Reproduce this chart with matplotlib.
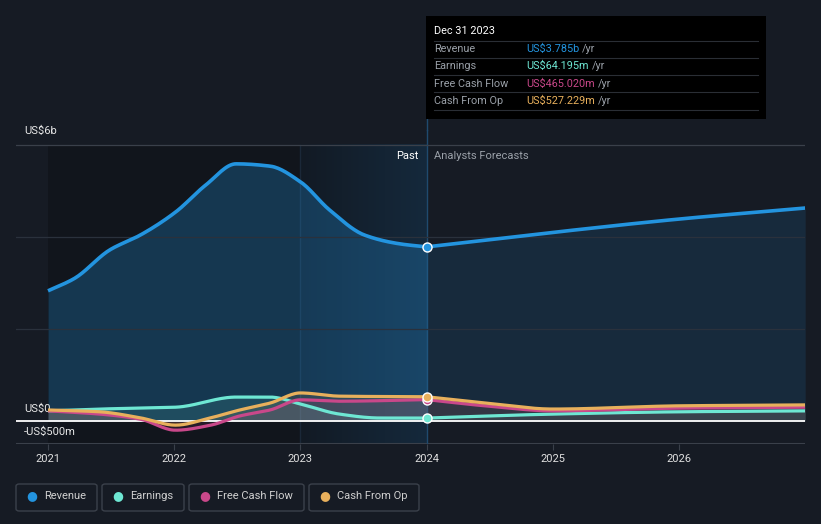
import matplotlib
matplotlib.use("Agg")
import matplotlib.pyplot as plt
import numpy as np
from matplotlib.patches import FancyBboxPatch, Rectangle
from matplotlib.colors import LinearSegmentedColormap

plt.rcParams['font.family'] = ['Roboto', 'DejaVu Sans']

# ---- data (US$ billions) ----
rev_t = [2021.0, 2021.21, 2021.49, 2021.73, 2022.01, 2022.25, 2022.49, 2022.76, 2023.0, 2023.23, 2023.51, 2023.79, 2024.0]
rev_v = [2.83, 3.10, 3.72, 4.04, 4.54, 5.13, 5.59, 5.54, 5.20, 4.59, 4.04, 3.85, 3.785]
rev_ft = [2024.0, 2025.0, 2026.0, 2027.0]
rev_fv = [3.785, 4.10, 4.39, 4.63]

earn_t = [2021.0, 2021.41, 2021.73, 2022.01, 2022.49, 2022.76, 2023.0, 2023.31, 2023.63, 2024.0]
earn_v = [0.22, 0.26, 0.28, 0.30, 0.52, 0.52, 0.37, 0.15, 0.065, 0.064]
earn_ft = [2024.0, 2025.0, 2026.0, 2027.0]
earn_fv = [0.064, 0.15, 0.20, 0.22]

fcf_t = [2021.0, 2021.41, 2021.73, 2022.01, 2022.29, 2022.52, 2022.76, 2023.0, 2023.31, 2024.0]
fcf_v = [0.22, 0.15, 0.04, -0.20, -0.09, 0.11, 0.24, 0.46, 0.43, 0.465]
fcf_ft = [2024.0, 2024.5, 2025.0, 2026.0, 2027.0]
fcf_fv = [0.465, 0.32, 0.22, 0.28, 0.30]

cfo_t = [2021.0, 2021.41, 2021.73, 2022.01, 2022.29, 2022.52, 2022.76, 2023.0, 2023.31, 2024.0]
cfo_v = [0.24, 0.20, 0.07, -0.09, 0.07, 0.24, 0.39, 0.61, 0.54, 0.527]
cfo_ft = [2024.0, 2024.5, 2025.0, 2026.0, 2027.0]
cfo_fv = [0.527, 0.38, 0.26, 0.33, 0.35]

year_ticks = [2021, 2022, 2023, 2024, 2025, 2026]

C_REV = '#2394df'
C_EARN = '#6ee7d3'
C_FCF = '#c9488a'
C_CFO = '#e8b05c'
BG = '#161b24'


def smooth(t, v, n=200):
    t = np.asarray(t, float); v = np.asarray(v, float)
    h = np.diff(t); d = np.diff(v) / h
    m = np.zeros_like(v)
    m[0] = d[0]; m[-1] = d[-1]
    for i in range(1, len(v) - 1):
        if d[i - 1] * d[i] <= 0:
            m[i] = 0
        else:
            w1 = 2 * h[i] + h[i - 1]; w2 = h[i] + 2 * h[i - 1]
            m[i] = (w1 + w2) / (w1 / d[i - 1] + w2 / d[i])
    xs = np.linspace(t[0], t[-1], n)
    ys = np.empty_like(xs)
    for k, x in enumerate(xs):
        i = min(np.searchsorted(t, x, side='right') - 1, len(t) - 2)
        hh = h[i]; s = (x - t[i]) / hh
        h00 = 2 * s**3 - 3 * s**2 + 1; h10 = s**3 - 2 * s**2 + s
        h01 = -2 * s**3 + 3 * s**2; h11 = s**3 - s**2
        ys[k] = h00 * v[i] + h10 * hh * m[i] + h01 * v[i + 1] + h11 * hh * m[i + 1]
    return xs, ys


W, H = 821, 524
fig = plt.figure(figsize=(W / 100, H / 100), dpi=100)
fig.patch.set_facecolor(BG)

x0px, x1px = 16, 805
ytop, ybot = 130, 444
ax = fig.add_axes([x0px / W, 1 - ybot / H, (x1px - x0px) / W, (ybot - ytop) / H])
ax.set_facecolor(BG)
px_per_year = 126.2
xmin = 2021 - (48 - x0px) / px_per_year
xmax = 2021 + (x1px - 48) / px_per_year
px_per_b = 46.0
ymin = -0.5
ymax = (421 - ytop) / px_per_b
for s in ax.spines.values():
    s.set_visible(False)

# darker past region (full height up to top gridline)
ax.fill_between([2021, 2023], ymin, 6.0, color='#11151c', zorder=0, lw=0)
grad = np.linspace(0, 1, 256).reshape(1, -1)
cmap = LinearSegmentedColormap.from_list('g', ['#121a24', '#15293c'])
ax.imshow(grad, extent=[2023, 2024, ymin, 6.0], aspect='auto', cmap=cmap, zorder=0.5,
          interpolation='bilinear')
ax.set_xlim(xmin, xmax); ax.set_ylim(ymin, ymax)
ax.axvline(2023, ymin=0, ymax=(6.5) / (ymax - ymin), color='#1b2838', lw=1, zorder=0.6)

# gridlines
for g in [2, 4]:
    ax.axhline(g, color='#2a313c', lw=0.9, zorder=2.5)
ax.axhline(6, color='#3a404a', lw=0.9, zorder=2.5)
ax.axhline(-0.5, color='#3a404a', lw=1.5, zorder=1)

# revenue
rx, ry = smooth(rev_t, rev_v)
fx, fy = smooth(rev_ft, rev_fv)
ax.fill_between(rx, 0, ry, color=C_REV, alpha=0.27, lw=0, zorder=2)
ax.fill_between(fx, 0, fy, color=C_REV, alpha=0.13, lw=0, zorder=2)

series = [(earn_t, earn_v, earn_ft, earn_fv, C_EARN),
          (fcf_t, fcf_v, fcf_ft, fcf_fv, C_FCF),
          (cfo_t, cfo_v, cfo_ft, cfo_fv, C_CFO)]
for t, v, ft, fv, c in series:
    xs, ys = smooth(t, v)
    xf, yf = smooth(ft, fv)
    ax.fill_between(xs, 0, ys, color=c, alpha=0.12, lw=0, zorder=3)
    ax.fill_between(xf, 0, yf, color=c, alpha=0.08, lw=0, zorder=3)

ax.axhline(0, color='#ffffff', lw=1.3, zorder=4)

ax.plot(rx, ry, color=C_REV, lw=2.6, zorder=6, solid_capstyle='butt')
ax.plot(fx, fy, color=C_REV, lw=2.6, zorder=6, solid_capstyle='butt')
for t, v, ft, fv, c in series:
    xs, ys = smooth(t, v)
    xf, yf = smooth(ft, fv)
    ax.plot(xs, ys, color=c, lw=2.3, zorder=5, solid_capstyle='butt')
    ax.plot(xf, yf, color=c, lw=2.3, zorder=5, solid_capstyle='butt')

ax.axvline(2024, color='#1f4a6e', lw=1, zorder=1.5)

for val, c in [(rev_v[-1], C_REV), (fcf_v[-1], C_FCF), (cfo_v[-1], C_CFO), (earn_v[-1], C_EARN)]:
    ax.plot([2024], [val], 'o', ms=6.5, mfc=c, mec='white', mew=1.0, zorder=8)

ax.text(24 / W, 1 - 131 / H, 'US$6b', transform=fig.transFigure, color='#e8e8e8', fontsize=8, va='center')
ax.text(24 / W, 1 - 409 / H, 'US$0', transform=fig.transFigure, color='#e8e8e8', fontsize=8, va='center')
ax.text(24 / W, 1 - 432 / H, '-US$500m', transform=fig.transFigure, color='#e8e8e8', fontsize=8, va='center')

ax.text(418 / W, 1 - 156 / H, 'Past', transform=fig.transFigure, color='#ffffff', fontsize=8, ha='right', va='center')
ax.text(434 / W, 1 - 156 / H, 'Analysts Forecasts', transform=fig.transFigure, color='#9aa0a8', fontsize=8, ha='left', va='center')

ax.set_xticks(year_ticks)
ax.set_xticklabels([str(y) for y in year_ticks], color='#e0e0e0', fontsize=8)
ax.tick_params(axis='x', length=4, color='#3a404a', pad=3)
ax.set_yticks([])

# tooltip
fig.patches.append(Rectangle((426 / W, 1 - 119 / H), 340 / W, 103 / H, transform=fig.transFigure,
                             facecolor='#000000', edgecolor='none', zorder=10))
fig.lines.append(plt.Line2D([427 / W, 427 / W], [1 - 130 / H, 1 - 119 / H], transform=fig.transFigure,
                            color='#1f4a6e', lw=1))
fig.text(434 / W, 1 - 31 / H, 'Dec 31 2023', color='#ffffff', fontsize=7.8, va='center', zorder=11)
rows = [('Revenue', 'US$3.785b', C_REV), ('Earnings', 'US$64.195m', C_EARN),
        ('Free Cash Flow', 'US$465.020m', C_FCF), ('Cash From Op', 'US$527.229m', C_CFO)]
fig.canvas.draw()
rend = fig.canvas.get_renderer()
for i, (lab, val, c) in enumerate(rows):
    yc = 49 + i * 17.3
    fig.text(434 / W, 1 - yc / H, lab, color='#9aa0a8', fontsize=7.8, va='center', zorder=11)
    t = fig.text(526 / W, 1 - yc / H, val, color=c, fontsize=7.8, va='center', zorder=11)
    bb = t.get_window_extent(renderer=rend)
    fig.text(bb.x1 / W + 3 / W, 1 - yc / H, '/yr', color='#9aa0a8', fontsize=7.8, va='center', zorder=11)
for yl in [41, 58, 75, 92, 110]:
    fig.lines.append(plt.Line2D([434 / W, 758 / W], [1 - yl / H, 1 - yl / H], transform=fig.transFigure,
                                color='#2a2e35', lw=0.8, zorder=11))

# legend
legend_items = [('Revenue', C_REV, 16, 97), ('Earnings', C_EARN, 102, 184),
                ('Free Cash Flow', C_FCF, 189, 304), ('Cash From Op', C_CFO, 309, 419)]
for lab, c, xa, xb in legend_items:
    fig.patches.append(FancyBboxPatch((xa / W, 1 - 511 / H), (xb - xa) / W, 27 / H,
                                      boxstyle='round,pad=0,rounding_size=0.004', transform=fig.transFigure,
                                      facecolor='none', edgecolor='#3b414b', lw=1))
    fig.text((xa + 16) / W, 1 - 496 / H, '\u25CF', color=c, fontsize=9, ha='center', va='center',
             family=['DejaVu Sans'])
    fig.text((xa + 28) / W, 1 - 496 / H, lab, color='#d0d0d0', fontsize=8, va='center')

fig.savefig('out.png', dpi=100, facecolor=BG)
